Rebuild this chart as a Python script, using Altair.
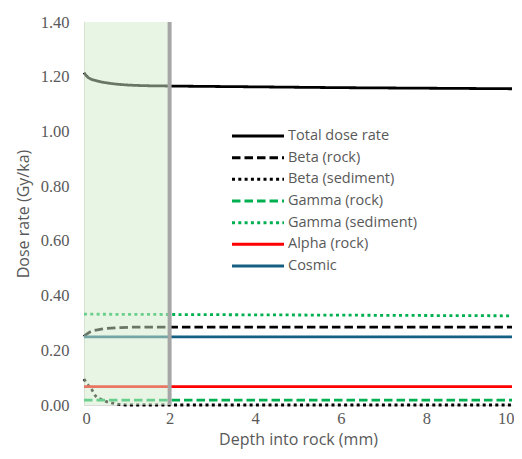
import altair as alt
import pandas as pd

series = ["Total dose rate", "Beta (rock)", "Beta (sediment)", "Gamma (rock)",
          "Gamma (sediment)", "Alpha (rock)", "Cosmic"]
colors = ["#000000", "#000000", "#000000", "#00B050", "#00B050", "#FF0000", "#156082"]
dashes = [[1, 0], [8.5, 4], [3, 3.3], [8.5, 4], [3, 3.3], [1, 0], [1, 0]]

total_x = [0, 0.1, 0.3, 0.6, 1.0, 1.5, 2.0, 4, 6, 8, 10]
total_y = [1.215, 1.197, 1.185, 1.176, 1.170, 1.167, 1.166, 1.163, 1.160, 1.158, 1.156]
beta_rock_x = [0, 0.03, 0.14, 0.37, 0.84, 1.4, 2.0, 10]
beta_rock_y = [0.250, 0.255, 0.267, 0.276, 0.283, 0.285, 0.285, 0.285]
beta_sed_x = [0, 0.06, 0.18, 0.26, 0.44, 0.72, 0.96, 2.0, 10]
beta_sed_y = [0.095, 0.080, 0.057, 0.035, 0.018, 0.005, 0.0, 0.0, 0.0]
gamma_rock_x = [0, 10]
gamma_rock_y = [0.018, 0.018]
gamma_sed_x = [0, 10]
gamma_sed_y = [0.332, 0.326]
alpha_x = [0, 10]
alpha_y = [0.067, 0.067]
cosmic_x = [0, 10]
cosmic_y = [0.249, 0.249]

band_start = [0]
band_end = [2]

xs = [total_x, beta_rock_x, beta_sed_x, gamma_rock_x, gamma_sed_x, alpha_x, cosmic_x]
ys = [total_y, beta_rock_y, beta_sed_y, gamma_rock_y, gamma_sed_y, alpha_y, cosmic_y]
rows = []
for i, (name, sx, sy) in enumerate(zip(series, xs, ys)):
    for x, y in zip(sx, sy):
        rows.append({"series": name, "order": i, "depth": x, "dose": y})
df = pd.DataFrame(rows)
legend_df = pd.DataFrame({"series": series, "rank": list(range(len(series)))})

grey = "#595959"
serif = "Liberation Serif, Times New Roman, serif"
xscale = alt.Scale(domain=[0, 10], nice=False, zero=False)
yscale = alt.Scale(domain=[0, 1.4], nice=False)
cscale = alt.Scale(domain=series, range=colors)
dscale = alt.Scale(domain=series, range=dashes)

lines = alt.Chart(df).mark_line(strokeWidth=2.8, interpolate="monotone").encode(
    x=alt.X("depth:Q", scale=xscale,
            axis=alt.Axis(title="Depth into rock (mm)", values=[0, 2, 4, 6, 8, 10],
                          format="d", grid=False, ticks=False, domainColor="#d9d9d9",
                          labelFont=serif, labelFontSize=16.5, labelColor=grey,
                          labelFlush=True, labelFlushOffset=2,
                          labelPadding=5, titleFont="Open Sans", titleFontSize=16,
                          titleFontWeight="normal", titleColor=grey, titlePadding=5)),
    y=alt.Y("dose:Q", scale=yscale,
            axis=alt.Axis(title="Dose rate (Gy/ka)", values=[0, 0.2, 0.4, 0.6, 0.8, 1.0, 1.2, 1.4],
                          format=".2f", grid=False, ticks=False, domainColor="#d9d9d9",
                          labelFont=serif, labelFontSize=16.5, labelColor=grey, labelFlush=False,
                          labelPadding=15, titleFont="Open Sans", titleFontSize=16,
                          titleFontWeight="normal", titleColor=grey, titlePadding=9)),
    color=alt.Color("series:N", scale=cscale, legend=None),
    strokeDash=alt.StrokeDash("series:N", scale=dscale, legend=None),
    detail="series:N",
    order="order:Q",
)

band_df = pd.DataFrame({"start": band_start, "end": band_end})
band = alt.Chart(band_df).mark_rect(color="#D3EBCA", opacity=0.5).encode(
    x=alt.X("start:Q", scale=xscale), x2="end:Q",
    y=alt.value(0), y2=alt.value(383))
edge = alt.Chart(band_df).mark_rule(color="#A6A6A6", strokeWidth=4).encode(
    x=alt.X("end:Q", scale=xscale), y=alt.value(0), y2=alt.value(383))

lscale = alt.Scale(domain=[0, 6], range=[114, 244])
leg_lines = alt.Chart(legend_df).mark_rule(strokeWidth=3).encode(
    x=alt.value(148), x2=alt.value(200),
    y=alt.Y("rank:Q", scale=lscale, axis=None),
    color=alt.Color("series:N", scale=cscale, legend=None),
    strokeDash=alt.StrokeDash("series:N", scale=dscale, legend=None),
)
leg_text = alt.Chart(legend_df).mark_text(
    align="left", baseline="middle", font="Open Sans", fontSize=14.5, color=grey
).encode(
    x=alt.value(204),
    y=alt.Y("rank:Q", scale=lscale, axis=None),
    text="series:N",
)

chart = alt.layer(lines, band, edge, leg_lines, leg_text).resolve_scale(
    y="independent"
).properties(
    width=428, height=383, autosize=alt.AutoSizeParams(type="none"),
    padding={"left": 76, "top": 14, "right": 2, "bottom": 45}
).configure_view(stroke=None)

chart.save("out.html", embed_options={"renderer": "svg", "actions": False})
